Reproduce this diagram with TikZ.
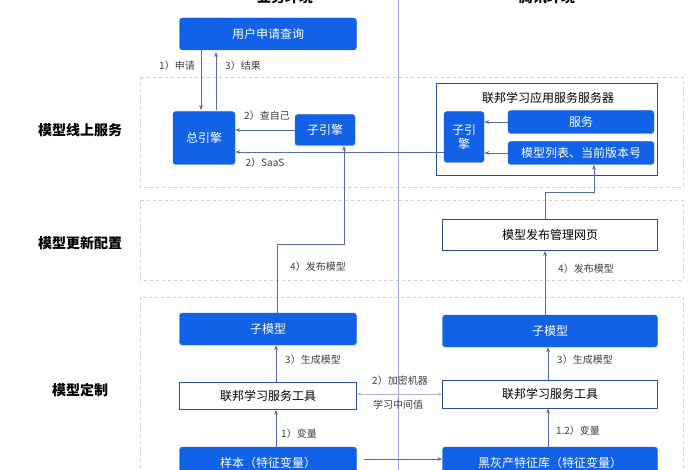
\documentclass[tikz,border=0pt]{standalone}
\usepackage{fontspec}
\setmainfont{Noto Sans CJK SC}
\usetikzlibrary{arrows.meta}
\definecolor{bblue}{RGB}{18,98,232}
\definecolor{aline}{RGB}{88,108,160}
\definecolor{bline}{RGB}{40,80,150}
\definecolor{zone}{RGB}{200,210,225}
\tikzset{
  fillbox/.style={draw=bblue, fill=bblue, rounded corners=3pt, text=white, font=\fontsize{12}{14}\selectfont, inner sep=0pt},
  linebox/.style={draw=bline, thick, fill=white, font=\fontsize{12}{14}\selectfont, inner sep=0pt},
  flow/.style={draw=aline, thick, -{Stealth[length=5pt]}},
  lbl/.style={font=\fontsize{10}{12}\selectfont, text=black!75},
  rowlbl/.style={font=\fontsize{14}{16}\selectfont\bfseries},
}
\begin{document}
\begin{tikzpicture}[x=1pt,y=-1pt]
        \useasboundingbox (0,0) rectangle (700,470);
        \draw[zone, dashed] (140,77) rectangle (683,187);
        \draw[zone, dashed] (140,200) rectangle (683,280);
        \draw[zone, dashed] (140,297) rectangle (683,480);
        \draw[zone!80!blue] (398,0) -- (398,470);

        \node[rowlbl] (env1) at (285,-3) {业务环境};
        \node[rowlbl] (env2) at (547,-3) {腾讯环境};
        \node[rowlbl] (row1) at (80,130) {模型线上服务};
        \node[rowlbl] (row2) at (80,243) {模型更新配置};
        \node[rowlbl] (row3) at (80,390) {模型定制};

        \node[fillbox, minimum width=177pt, minimum height=32pt] (query) at (268,34) {用户申请查询};
        \node[fillbox, minimum width=62pt, minimum height=53pt] (main) at (204,138) {总引擎};
        \node[fillbox, minimum width=60pt, minimum height=31pt] (sub) at (325,130) {子引擎};

        \node[linebox, minimum width=221pt, minimum height=92pt] (server) at (547,129) {};
        \node[font=\fontsize{12}{14}\selectfont] (srvtitle) at (548,98) {联邦学习应用服务服务器};
        \node[fillbox, minimum width=40pt, minimum height=51pt, align=center] (subr) at (464,137) {子引\\擎};
        \node[fillbox, minimum width=146pt, minimum height=23pt] (svc) at (581,122) {服务};
        \node[fillbox, minimum width=146pt, minimum height=23pt] (mlist) at (581,153) {模型列表、当前版本号};

        \node[linebox, minimum width=215pt, minimum height=31pt] (web) at (550,235) {模型发布管理网页};

        \node[fillbox, minimum width=177pt, minimum height=32pt] (modl) at (268,329) {子模型};
        \node[fillbox, minimum width=215pt, minimum height=32pt] (modr) at (550,331) {子模型};
        \node[linebox, minimum width=177pt, minimum height=27pt] (tooll) at (268,396) {联邦学习服务工具};
        \node[linebox, minimum width=215pt, minimum height=28pt] (toolr) at (550,394) {联邦学习服务工具};
        \node[fillbox, minimum width=177pt, minimum height=32pt] (samp) at (268,463) {样本（特征变量）};
        \node[fillbox, minimum width=215pt, minimum height=32pt] (feat) at (550,463) {黑灰产特征库（特征变量）};

        % online service
        \draw[flow] (201,50) -- (201,110);
        \draw[flow] (216,110) -- (216,52);
        \node[lbl] (l1) at (177,66) {1）申请};
        \node[lbl] (l2) at (243,66) {3）结果};
        \draw[flow] (sub.west |- 0,130) -- (main.east |- 0,130);
        \node[lbl] (l3) at (267,116) {2）查自己};
        \draw[flow] (subr.west |- 0,152) -- (main.east |- 0,152);
        \node[lbl] (l4) at (265,163) {2）SaaS};
        \draw[flow] (svc.west) -- (subr.east |- svc.west);
        \draw[flow] (mlist.west) -- (subr.east |- mlist.west);

        % publishing
        \draw[flow] (277,313) -- (277,244) -- (344,244) -- (sub.south -| 344,0);
        \node[lbl] (l5) at (318,267) {4）发布模型};
        \draw[flow] (545,219) -- (545,192) -- (594,192) -- (mlist.south -| 594,0);
        \draw[flow] (modr.north -| 545,0) -- (web.south -| 545,0);
        \node[lbl] (l6) at (586,269) {4）发布模型};

        % customisation
        \draw[flow] (tooll.north -| 276,0) -- (modl.south -| 276,0);
        \node[lbl] (l7) at (313,360) {3）生成模型};
        \draw[flow] (toolr.north -| 548,0) -- (modr.south -| 548,0);
        \node[lbl] (l8) at (585,360) {3）生成模型};
        \draw[flow] (samp.north -| 276,0) -- (tooll.south -| 276,0);
        \node[lbl] (l9) at (299,434) {1）变量};
        \draw[flow] (feat.north -| 548,0) -- (toolr.south -| 548,0);
        \node[lbl] (l10) at (578,431) {1.2）变量};
        \draw[draw=aline!50, thick, {Stealth[length=4pt]}-{Stealth[length=4pt]}] (tooll.east |- 0,394) -- (toolr.west |- 0,394);
        \node[lbl] (l11) at (400,381) {2）加密机器};
        \node[lbl] (l12) at (398,405) {学习中间值};
        \draw[flow] (364,459) -- (feat.west |- 0,459);
\end{tikzpicture}
\end{document}
